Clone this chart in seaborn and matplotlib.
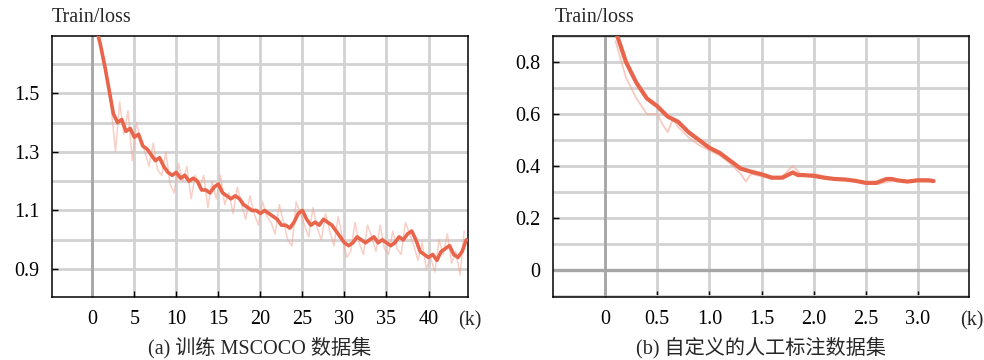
import numpy as np
import pandas as pd
import seaborn as sns
import matplotlib.pyplot as plt
from matplotlib.ticker import MultipleLocator


# Panel (a): MSCOCO training loss, smoothed curve (k iterations)
coco_x = [0.5, 1.0, 1.5, 2.0, 2.5, 3.0, 3.5, 4.0, 4.5, 5.0, 5.5, 6.0, 6.5, 7.0, 7.5, 8.0, 8.5, 9.0,
          9.5, 10.0, 10.5, 11.0, 11.5, 12.0, 12.5, 13.0, 13.5, 14.0, 14.5, 15.0, 15.5, 16.0, 16.5, 17.0,
          17.5, 18.0, 18.5, 19.0, 19.5, 20.0, 20.5, 21.0, 21.5, 22.0, 22.5, 23.0, 23.5, 24.0, 24.5, 25.0,
          25.5, 26.0, 26.5, 27.0, 27.5, 28.0, 28.5, 29.0, 29.5, 30.0, 30.5, 31.0, 31.5, 32.0, 32.5, 33.0,
          33.5, 34.0, 34.5, 35.0, 35.5, 36.0, 36.5, 37.0, 37.5, 38.0, 38.5, 39.0, 39.5, 40.0, 40.5, 41.0,
          41.5, 42.0, 42.5, 43.0, 43.5, 44.0, 44.5]
coco_loss = [1.72, 1.66, 1.59, 1.51, 1.43, 1.40, 1.41, 1.37, 1.38, 1.35, 1.36, 1.32, 1.31, 1.29, 1.27, 1.28, 1.25, 1.23,
             1.22, 1.23, 1.21, 1.22, 1.20, 1.21, 1.20, 1.17, 1.17, 1.16, 1.18, 1.19, 1.16, 1.15, 1.14, 1.15,
             1.14, 1.12, 1.11, 1.10, 1.10, 1.09, 1.10, 1.09, 1.08, 1.07, 1.05, 1.05, 1.04, 1.06, 1.09, 1.10,
             1.07, 1.05, 1.06, 1.05, 1.07, 1.06, 1.05, 1.03, 1.01, 0.99, 0.98, 0.99, 1.01, 1.00, 0.99, 1.00,
             1.01, 0.99, 1.00, 0.99, 0.98, 0.99, 1.01, 1.00, 1.02, 1.03, 1.00, 0.96, 0.95, 0.94, 0.95, 0.93,
             0.96, 0.97, 0.98, 0.95, 0.94, 0.96, 1.00]

# Panel (a): raw (unsmoothed) loss, drawn faint behind
coco_raw_x = [0.75, 1.25, 1.75, 2.25, 2.75, 3.25, 3.75, 4.25, 4.75, 5.25, 5.75, 6.25, 6.75, 7.25, 7.75, 8.25,
              8.75, 9.25, 9.75, 10.25, 10.75, 11.25, 11.75, 12.25, 12.75, 13.25, 13.75, 14.25, 14.75, 15.25,
              15.75, 16.25, 16.75, 17.25, 17.75, 18.25, 18.75, 19.25, 19.75, 20.25, 20.75, 21.25, 21.75, 22.25,
              22.75, 23.25, 23.75, 24.25, 24.75, 25.25, 25.75, 26.25, 26.75, 27.25, 27.75, 28.25, 28.75, 29.25,
              29.75, 30.25, 30.75, 31.25, 31.75, 32.25, 32.75, 33.25, 33.75, 34.25, 34.75, 35.25, 35.75, 36.25,
              36.75, 37.25, 37.75, 38.25, 38.75, 39.25, 39.75, 40.25, 40.75, 41.25, 41.75, 42.25, 42.75, 43.25,
              43.75, 44.25]
coco_raw = [1.70, 1.60, 1.56, 1.45, 1.30, 1.47, 1.36, 1.44, 1.27, 1.40, 1.34, 1.30, 1.25, 1.33, 1.24, 1.22,
            1.30, 1.19, 1.16, 1.26, 1.20, 1.25, 1.14, 1.22, 1.18, 1.22, 1.11, 1.20, 1.14, 1.22,
            1.12, 1.16, 1.09, 1.18, 1.12, 1.07, 1.15, 1.09, 1.05, 1.13, 1.08, 1.06, 1.02, 1.12,
            1.06, 1.00, 0.98, 1.13, 1.09, 1.05, 1.01, 1.11, 1.04, 1.00, 1.09, 1.03, 0.98, 1.08,
            1.01, 0.94, 0.96, 1.06, 0.99, 0.95, 1.05, 1.01, 0.96, 1.05, 0.97, 0.95, 1.03, 0.97,
            0.95, 1.06, 1.02, 0.98, 0.93, 0.99, 0.90, 0.94, 0.89, 1.00, 0.95, 1.02, 0.92, 0.96,
            0.88, 1.03]

# Panel (b): custom hand-labelled dataset
custom_x = [0.1, 0.15, 0.2, 0.3, 0.4, 0.5, 0.6, 0.7, 0.8, 0.9, 1.0, 1.1, 1.2, 1.3, 1.4, 1.5, 1.6, 1.7,
            1.75, 1.8, 1.85, 1.9, 2.0, 2.1, 2.2, 2.3, 2.4, 2.5, 2.6, 2.7, 2.75, 2.8, 2.9, 3.0, 3.1, 3.15]
custom_loss = [0.92, 0.86, 0.80, 0.72, 0.66, 0.63, 0.59, 0.57, 0.53, 0.50, 0.47, 0.45, 0.42, 0.39, 0.378, 0.368,
               0.355, 0.355, 0.365, 0.375, 0.365, 0.365, 0.362, 0.355, 0.35, 0.348, 0.343, 0.335, 0.335, 0.35,
               0.35, 0.345, 0.34, 0.345, 0.345, 0.342]
custom_raw_x = [0.1, 0.2, 0.3, 0.4, 0.5, 0.55, 0.6, 0.65, 0.7, 0.8, 0.9, 1.0, 1.1, 1.2, 1.3, 1.35, 1.4, 1.5,
                1.6, 1.7, 1.8, 1.9, 2.0, 2.2, 2.4, 2.6, 2.8, 3.0, 3.15]
custom_raw = [0.88, 0.74, 0.66, 0.60, 0.60, 0.56, 0.53, 0.58, 0.55, 0.51, 0.48, 0.46, 0.44, 0.41, 0.37, 0.34,
              0.37, 0.36, 0.35, 0.36, 0.40, 0.36, 0.37, 0.35, 0.345, 0.33, 0.345, 0.34, 0.34]

coco_xticks = [0, 5, 10, 15, 20, 25, 30, 35, 40]
coco_yticks = [0.9, 1.1, 1.3, 1.5]
custom_xticks = [0, 0.5, 1.0, 1.5, 2.0, 2.5, 3.0]
custom_yticks = [0, 0.2, 0.4, 0.6, 0.8]
captions = ["(a) 训练 MSCOCO 数据集", "(b) 自定义的人工标注数据集"]

sns.set_theme(style="white")
plt.rcParams["font.family"] = ["Liberation Serif", "Noto Sans CJK SC", "DejaVu Sans"]
FS = 14.5

LINE = "#e8644b"
RAW = "#f2a899"
GRID = "#d2d2d2"
ZERO = "#a6a6a6"

fig = plt.figure(figsize=(9.84, 3.6), dpi=100)
ax1 = fig.add_axes([52 / 984, 1 - 297 / 360, 416 / 984, 261 / 360])
ax2 = fig.add_axes([553 / 984, 1 - 297 / 360, 416 / 984, 261 / 360])


def style_axis(ax, xticks, yticks, xlim, ylim, xlabels, ylabels):
    ax.set_xlim(*xlim)
    ax.set_ylim(*ylim)
    ax.set_xticks(xticks)
    ax.set_xticklabels(xlabels)
    ax.set_yticks(yticks)
    ax.set_yticklabels(ylabels)
    ax.yaxis.set_minor_locator(MultipleLocator(0.1))
    ax.set_axisbelow(True)
    ax.grid(which="both", color=GRID, lw=2.0)
    ax.tick_params(which="major", direction="in", length=4, width=1, colors="black",
                   pad=9, labelsize=FS, bottom=True, left=True)
    ax.tick_params(which="minor", length=0)
    for sp in ax.spines.values():
        sp.set_color("black")
        sp.set_linewidth(1.1)
    ax.set_xlabel("")
    ax.set_ylabel("")


# (a)
ax1.axvline(0, color=ZERO, lw=2.0, zorder=1)
sns.lineplot(x=coco_raw_x, y=coco_raw, ax=ax1, color=RAW, lw=1.1, alpha=0.55, zorder=2)
sns.lineplot(x=coco_x, y=coco_loss, ax=ax1, color=LINE, lw=2.6, zorder=3)
style_axis(ax1, coco_xticks, coco_yticks, (-4.8, 44.7), (0.805, 1.695),
           [str(t) for t in coco_xticks], ["0.9", "1.1", "1.3", "1.5"])

# (b)
ax2.axvline(0, color=ZERO, lw=2.0, zorder=1)
ax2.axhline(0, color=ZERO, lw=2.4, zorder=1)
sns.lineplot(x=custom_raw_x, y=custom_raw, ax=ax2, color=RAW, lw=1.3, alpha=0.6, zorder=2)
sns.lineplot(x=custom_x, y=custom_loss, ax=ax2, color=LINE, lw=3.0, zorder=3)
style_axis(ax2, custom_xticks, custom_yticks, (-0.5, 3.49), (-0.104, 0.9),
           ["0", "0.5", "1.0", "1.5", "2.0", "2.5", "3.0"], ["0", "0.2", "0.4", "0.6", "0.8"])

# axis titles, unit marks and captions
fig.text(52 / 984, 1 - 18 / 360, "Train/loss", ha="left", va="center", fontsize=FS)
fig.text(555 / 984, 1 - 18 / 360, "Train/loss", ha="left", va="center", fontsize=FS)
fig.text(470 / 984, 1 - 321 / 360, "(k)", ha="center", va="center", fontsize=FS)
fig.text(972 / 984, 1 - 321 / 360, "(k)", ha="center", va="center", fontsize=FS)
fig.text(260 / 984, 1 - 348 / 360, captions[0], ha="center", va="center", fontsize=FS)
fig.text(761 / 984, 1 - 348 / 360, captions[1], ha="center", va="center", fontsize=FS)

fig.savefig("out.png", dpi=100)
